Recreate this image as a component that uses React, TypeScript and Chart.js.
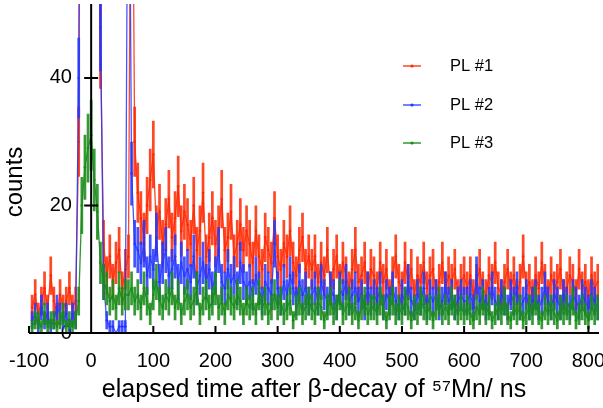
import React, { useEffect, useRef } from "react";
import { Chart, registerables } from "chart.js";

Chart.register(...registerables);

// bin centres (ns)
const TIMES = [
  -95, -90, -85, -80, -75, -70, -65, -60, -55, -50, -45, -40, -35, -30, -25, -20, -15, -10, -5, 0,
  5, 10, 15, 20, 25, 30, 35, 40, 45, 50, 55, 60, 65, 70, 75, 80, 85, 90, 95, 100,
  105, 110, 115, 120, 125, 130, 135, 140, 145, 150, 155, 160, 165, 170, 175, 180, 185, 190, 195, 200,
  205, 210, 215, 220, 225, 230, 235, 240, 245, 250, 255, 260, 265, 270, 275, 280, 285, 290, 295, 300,
  305, 310, 315, 320, 325, 330, 335, 340, 345, 350, 355, 360, 365, 370, 375, 380, 385, 390, 395, 400,
  405, 410, 415, 420, 425, 430, 435, 440, 445, 450, 455, 460, 465, 470, 475, 480, 485, 490, 495, 500,
  505, 510, 515, 520, 525, 530, 535, 540, 545, 550, 555, 560, 565, 570, 575, 580, 585, 590, 595, 600,
  605, 610, 615, 620, 625, 630, 635, 640, 645, 650, 655, 660, 665, 670, 675, 680, 685, 690, 695, 700,
  705, 710, 715, 720, 725, 730, 735, 740, 745, 750, 755, 760, 765, 770, 775, 780, 785, 790, 795, 800,
  805, 810, 815,
];

const PL1 = [
  4, 6, 3, 5, 7, 4, 9, 5, 3, 6, 4, 5, 7, 4, 5,
  30, 140, 220, 260, 250, 200, 120, 45,
  14, 9, 12, 8, 11, 13, 7, 10,
  12, 100, 30,
  22, 18, 15, 20, 24, 28, 16, 19, 14, 17, 21, 15, 18, 23, 16, 19,
  17, 14, 20, 13, 16, 22, 12, 15, 18, 14, 16, 21, 13, 15, 19, 12, 14, 17, 13, 16,
  14, 11, 16, 12, 10, 15, 13, 11, 18, 12, 10, 14, 12, 16, 11, 9, 13, 15, 10, 12,
  10, 12, 8, 11, 9, 13, 7, 10, 12, 8, 11, 9, 7, 10, 13, 8, 9, 11, 7, 10,
  9, 7, 11, 8, 10, 6, 9, 12, 8, 7, 11, 8, 10, 6, 9, 8, 11, 7, 9, 10, 6, 8, 11, 7, 9, 8, 10, 6, 8, 9,
  7, 9, 6, 8, 10, 7, 6, 9, 8, 11, 7, 6, 8, 10, 7, 9, 6, 8, 12, 7, 8, 6, 9, 7, 11, 8, 6, 9, 7, 8,
  10, 6, 7, 9, 8, 6, 10, 7, 8, 6, 9, 7, 8,
];

const PL2 = [
  2, 3, 1, 4, 2, 3, 1, 2, 4, 3, 2, 3, 1, 3, 2,
  40, 160, 260, 300, 290, 220, 130, 48,
  8, 2, 1, 1, 0, 1, 1, 1,
  100, 25, 14,
  13, 11, 14, 9, 12, 10, 15, 8, 11, 13, 9, 10, 12, 8, 11, 9,
  10, 8, 12, 7, 9, 11, 8, 10, 7, 9, 13, 8, 7, 10, 8, 9, 7, 11, 8, 7,
  8, 6, 9, 7, 5, 8, 7, 6, 14, 7, 5, 8, 6, 9, 7, 5, 8, 6, 7, 5,
  6, 7, 5, 8, 6, 5, 7, 6, 4, 7, 6, 8, 5, 6, 7, 5, 6, 4, 7, 5,
  6, 5, 7, 4, 6, 5, 7, 5, 4, 6, 5, 8, 5, 4, 6, 5, 7, 4, 6, 5, 6, 4, 5, 7, 5, 6, 4, 5, 6, 5,
  5, 6, 4, 9, 5, 6, 4, 5, 7, 5, 4, 6, 5, 4, 6, 5, 7, 4, 5, 6, 4, 5, 6, 4, 5, 7, 5, 4, 6, 5,
  4, 6, 5, 4, 6, 5, 4, 6, 5, 4, 6, 5, 4,
];

const PL3 = [
  1, 2, 2, 1, 3, 1, 2, 2, 1, 2, 3, 1, 2, 1, 2,
  5, 20, 26, 29, 31, 24, 19, 11,
  8, 7, 5, 6, 4, 7, 5, 6,
  6, 7, 5,
  6, 4, 7, 5, 3, 6, 8, 5, 4, 6, 5, 7, 4, 6, 3, 5,
  6, 4, 5, 7, 3, 5, 6, 4, 5, 7, 4, 5, 3, 6, 5, 4, 6, 5, 3, 5,
  4, 5, 3, 6, 4, 5, 3, 4, 6, 4, 5, 3, 4, 5, 2, 4, 5, 3, 4, 5,
  4, 3, 5, 4, 2, 4, 5, 3, 4, 6, 3, 4, 5, 3, 4, 2, 4, 5, 3, 4,
  4, 3, 5, 4, 2, 4, 5, 3, 4, 3, 5, 4, 2, 4, 3, 5, 4, 3, 4, 2, 4, 5, 3, 4, 3, 5, 4, 3, 4, 3,
  4, 3, 2, 4, 3, 5, 3, 4, 2, 3, 4, 3, 5, 3, 2, 4, 3, 4, 2, 3, 4, 3, 5, 3, 2, 4, 3, 4, 3, 2,
  4, 3, 4, 3, 5, 2, 3, 4, 3, 2, 4, 3, 4,
];

const SERIES_NAMES = ["PL #1", "PL #2", "PL #3"];
const SERIES_VALUES = [PL1, PL2, PL3];
const COLORS = ["rgb(255,40,0)", "rgb(35,55,255)", "rgb(25,140,25)"];
const LINE_COLORS = ["rgba(255,40,0,0.85)", "rgba(35,55,255,0.85)", "rgba(25,140,25,0.9)"];
const ERR_COLORS = ["rgba(255,40,0,0.85)", "rgba(35,55,255,0.85)", "rgba(25,140,25,0.88)"];

const X_TITLE = "elapsed time after β-decay of ⁵⁷Mn/ ns";
const Y_TITLE = "counts";
const FONT = "'Liberation Sans', Arial, Helvetica, sans-serif";

const errorBars = {
  id: "errorBars",
  beforeDatasetDraw(chart: any, args: any) {
    const { ctx, chartArea, scales } = chart;
    const yS = scales.y;
    const ds = chart.data.datasets[args.index];
    ctx.save();
    ctx.beginPath();
    ctx.rect(chartArea.left, chartArea.top, chartArea.right - chartArea.left, chartArea.bottom - chartArea.top);
    ctx.clip();
    ctx.strokeStyle = ds.errColor;
    ctx.lineWidth = 2.7;
    ctx.beginPath();
    args.meta.data.forEach((pt: any, i: number) => {
      const v = ds.data[i].y;
      const e = Math.sqrt(v);
      const y1 = yS.getPixelForValue(v + e);
      const y2 = yS.getPixelForValue(Math.max(0, v - e));
      ctx.moveTo(pt.x, y1);
      ctx.lineTo(pt.x, y2);
    });
    ctx.stroke();
    ctx.restore();
  },
};

const axesOverlay = {
  id: "axesOverlay",
  afterDatasetsDraw(chart: any) {
    const { ctx, chartArea, scales } = chart;
    const xS = scales.x;
    const yS = scales.y;
    const x0 = xS.getPixelForValue(0);
    const y0 = yS.getPixelForValue(0);
    ctx.save();
    ctx.strokeStyle = "#000";
    ctx.lineWidth = 2;
    ctx.beginPath();
    ctx.moveTo(chartArea.left, y0);
    ctx.lineTo(chartArea.right, y0);
    ctx.moveTo(x0, chartArea.top);
    ctx.lineTo(x0, y0);
    xS.ticks.forEach((t: any) => {
      if (t.value === 0) return;
      const px = xS.getPixelForValue(t.value);
      ctx.moveTo(px, y0);
      ctx.lineTo(px, y0 - 7);
    });
    yS.ticks.forEach((t: any) => {
      if (t.value === 0) return;
      const py = yS.getPixelForValue(t.value);
      ctx.moveTo(x0 - 7, py);
      ctx.lineTo(x0 + 7, py);
    });
    ctx.stroke();
    ctx.restore();
  },
};

const legendAndTitle = {
  id: "legendAndTitle",
  afterDraw(chart: any) {
    const { ctx } = chart;
    ctx.save();
    const rows = [66, 105, 143];
    SERIES_NAMES.forEach((name, i) => {
      const y = rows[i];
      ctx.strokeStyle = LINE_COLORS[i];
      ctx.lineWidth = 1.5;
      ctx.beginPath();
      ctx.moveTo(403, y);
      ctx.lineTo(421, y);
      ctx.stroke();
      ctx.fillStyle = COLORS[i];
      ctx.beginPath();
      ctx.arc(412, y, 1.6, 0, Math.PI * 2);
      ctx.fill();
      ctx.fillStyle = "#000";
      ctx.font = `16.5px ${FONT}`;
      ctx.textAlign = "left";
      ctx.textBaseline = "middle";
      ctx.fillText(name, 450, y);
    });
    ctx.translate(15, 182);
    ctx.rotate(-Math.PI / 2);
    ctx.font = `24px ${FONT}`;
    ctx.textAlign = "center";
    ctx.textBaseline = "middle";
    ctx.fillStyle = "#000";
    ctx.fillText(Y_TITLE, 0, 0);
    ctx.restore();
  },
};

export default function App() {
  const ref = useRef<HTMLCanvasElement | null>(null);

  useEffect(() => {
    if (!ref.current) return;
    Chart.defaults.font.family = FONT;
    Chart.defaults.color = "#000";
    const datasets = SERIES_NAMES.map((name, i) => ({
      label: name,
      data: TIMES.map((t, k) => ({ x: t, y: SERIES_VALUES[i][k] })),
      borderColor: LINE_COLORS[i],
      backgroundColor: COLORS[i],
      pointBackgroundColor: COLORS[i],
      pointBorderWidth: 0,
      pointRadius: 1.3,
      borderWidth: 1.3,
      tension: 0,
      order: 3 - i,
      errColor: ERR_COLORS[i],
    }));
    const chart = new Chart(ref.current, {
      type: "line",
      data: { datasets } as any,
      options: {
        animation: false,
        responsive: false,
        layout: { padding: { left: 29, right: 0, top: 0, bottom: 0 } },
        plugins: { legend: { display: false }, tooltip: { enabled: false } },
        scales: {
          x: {
            type: "linear",
            position: "bottom",
            min: -100,
            max: 817,
            grid: { display: false, drawTicks: false },
            border: { display: false },
            ticks: { stepSize: 100, includeBounds: false, font: { size: 20 }, padding: 16, color: "#000", maxRotation: 0 },
            title: { display: true, text: X_TITLE, font: { size: 25 }, padding: { top: 0, bottom: 3 }, color: "#000" },
            afterFit: (s: any) => {
              s.height = 75;
              s.paddingLeft = 0;
              s.paddingRight = 0;
            },
          },
          y: {
            type: "linear",
            // labels sit left of the x = 0 axis line (drawn by axesOverlay)
            position: { x: -31 },
            min: 0,
            max: 51.6,
            z: 1,
            grid: { display: false, drawTicks: false },
            border: { display: false },
            ticks: { stepSize: 20, includeBounds: false, font: { size: 20 }, padding: 0, color: "#000" },
            afterFit: (s: any) => {
              s.paddingTop = 0;
              s.paddingBottom = 0;
            },
          },
        },
      } as any,
      plugins: [errorBars, axesOverlay, legendAndTitle],
    });
    return () => chart.destroy();
  }, []);

  return (
    <div style={{ position: "fixed", left: 0, top: 0, width: 603, height: 408, background: "#fff" }}>
      <canvas ref={ref} width={603} height={408} style={{ display: "block" }} />
    </div>
  );
}
